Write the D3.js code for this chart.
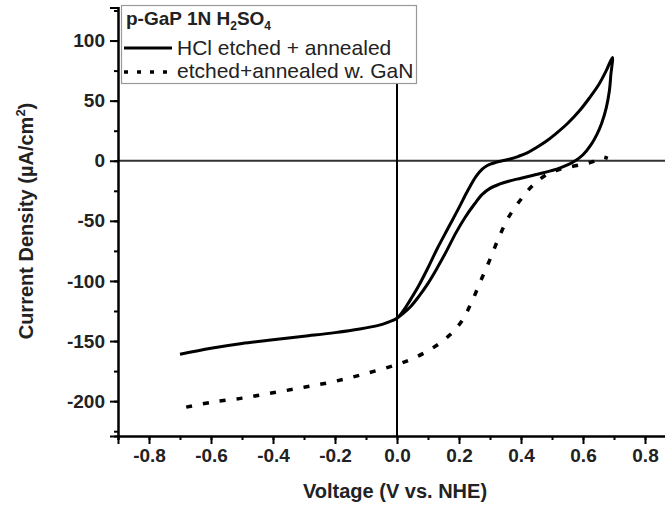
<!DOCTYPE html>
<html>
<head>
<meta charset="utf-8">
<script src="https://cdn.jsdelivr.net/npm/d3@7"></script>
<style>
  html, body { margin: 0; padding: 0; background: #fff; }
  svg { display: block; font-family: "Liberation Sans", Arial, sans-serif; }
</style>
</head>
<body>
<svg id="chart" width="665" height="507"></svg>
<script>
// ---- Data ----
const xTicks = [-0.8, -0.6, -0.4, -0.2, 0.0, 0.2, 0.4, 0.6, 0.8];
const yTicks = [100, 50, 0, -50, -100, -150, -200];

// HCl etched + annealed: sweep from -0.7 V up to 0.7 V and back (CV loop)
const hclVoltage = [-0.70, -0.60, -0.50, -0.40, -0.30, -0.20, -0.12, -0.06, -0.03, 0.00,
  0.02, 0.04, 0.07, 0.10, 0.13, 0.165, 0.20, 0.23, 0.255, 0.275, 0.29, 0.305, 0.32, 0.34,
  0.365, 0.39, 0.42, 0.45, 0.48, 0.51, 0.55, 0.59, 0.62, 0.65, 0.675, 0.695,
  0.69, 0.685, 0.675, 0.66, 0.645, 0.625, 0.60, 0.575, 0.55, 0.52, 0.48, 0.44, 0.40,
  0.36, 0.33, 0.30, 0.275, 0.25, 0.22, 0.19, 0.16, 0.13, 0.10, 0.07, 0.045, 0.02, 0.00];
const hclCurrent = [-161, -156, -152, -149, -146, -143, -140, -137, -134.5, -131,
  -125, -117, -104, -89, -73, -56, -39, -24, -13, -7, -4.2, -2.5, -1.2, 0,
  1.5, 3.5, 6.5, 11, 16, 22, 31, 42, 52, 63, 75, 86,
  72, 58, 44, 31, 22, 13, 5, 0, -3.5, -6.5, -9.5, -12, -14.5,
  -17, -19.5, -23, -28, -36, -47, -60, -75, -89, -102, -113, -121, -127, -131];

// etched+annealed w. GaN
const ganVoltage = [-0.68, -0.60, -0.50, -0.40, -0.30, -0.20, -0.10, 0.00, 0.06, 0.12,
  0.17, 0.21, 0.24, 0.27, 0.30, 0.33, 0.36, 0.40, 0.44, 0.48, 0.52, 0.56, 0.60, 0.63, 0.66, 0.68];
const ganCurrent = [-205, -201, -197.5, -193, -188.5, -183.5, -177, -169.5, -163.5, -155,
  -145, -133, -118, -100, -82, -63, -47, -32, -20, -12, -7.5, -5, -3, -1, 3, 2];

// ---- Layout ----
const svg = d3.select("#chart");
const x = d3.scaleLinear().domain([-0.9, 0.9]).range([118, 676]);
const y = d3.scaleLinear().domain([-229, 127.5]).range([436, 7.5]);
const FONT = "Liberation Sans, Arial, sans-serif";

// zero lines
svg.append("line").attr("x1", x(-0.9)).attr("x2", 665).attr("y1", y(0)).attr("y2", y(0))
  .attr("stroke", "#333").attr("stroke-width", 2);
svg.append("line").attr("x1", x(0)).attr("x2", x(0)).attr("y1", y(127.5)).attr("y2", y(-229))
  .attr("stroke", "#000").attr("stroke-width", 2);

// axes
const xAxis = d3.axisBottom(x).tickValues(xTicks).tickFormat(d3.format(".1f")).tickSize(8).tickPadding(5);
const xMinor = d3.axisBottom(x).tickValues(d3.range(-0.9, 0.95, 0.1)).tickFormat("").tickSize(4);
const yAxis = d3.axisLeft(y).tickValues(yTicks).tickFormat(d3.format("d")).tickSize(8).tickPadding(5);
const yMinor = d3.axisLeft(y).tickValues(d3.range(-225, 130, 25)).tickFormat("").tickSize(4);

function styleAxis(g) {
  g.select(".domain").attr("stroke", "#000").attr("stroke-width", 2);
  g.selectAll(".tick line").attr("stroke", "#000").attr("stroke-width", 2);
  g.selectAll("text").attr("font-size", 19).attr("font-weight", "bold").attr("fill", "#222")
    .attr("font-family", FONT);
}
svg.append("g").attr("transform", `translate(0,${y(-229)})`).call(xMinor).call(styleAxis);
svg.append("g").attr("transform", `translate(0,${y(-229)})`).call(xAxis).call(styleAxis)
  .selectAll("text").text(d => d3.format(".1f")(d).replace("−", "-"));
svg.append("g").attr("transform", `translate(${x(-0.9)},0)`).call(yMinor).call(styleAxis);
svg.append("g").attr("transform", `translate(${x(-0.9)},0)`).call(yAxis).call(styleAxis)
  .selectAll("text").text(d => String(d));

// curves
const line = d3.line().x(d => x(d[0])).y(d => y(d[1])).curve(d3.curveCatmullRom.alpha(0.5));
svg.append("path").datum(hclVoltage.map((v, i) => [v, hclCurrent[i]]))
  .attr("d", line).attr("fill", "none").attr("stroke", "#000").attr("stroke-width", 3)
  .attr("stroke-linejoin", "round");
svg.append("path").datum(ganVoltage.map((v, i) => [v, ganCurrent[i]]))
  .attr("d", line).attr("fill", "none").attr("stroke", "#000").attr("stroke-width", 3.5)
  .attr("stroke-dasharray", "6,11");

// axis titles
svg.append("text").attr("x", 395).attr("y", 498).attr("text-anchor", "middle")
  .attr("font-family", FONT).attr("font-size", 20).attr("font-weight", "bold").attr("fill", "#222")
  .text("Voltage (V vs. NHE)");
const yt = svg.append("text").attr("transform", "translate(33,221) rotate(-90)")
  .attr("text-anchor", "middle").attr("font-family", FONT).attr("font-size", 20)
  .attr("font-weight", "bold").attr("fill", "#222");
yt.append("tspan").text("Current Density (µA/cm");
yt.append("tspan").attr("dy", -8).attr("font-size", 13).text("2");
yt.append("tspan").attr("dy", 8).text(")");

// legend
const lg = svg.append("g").attr("font-family", FONT);
lg.append("rect").attr("x", 121.5).attr("y", 5.5).attr("width", 295).attr("height", 78)
  .attr("fill", "#fff").attr("stroke", "#999").attr("stroke-width", 1.2);
const title = lg.append("text").attr("x", 126).attr("y", 25).attr("font-size", 19)
  .attr("font-weight", "bold").attr("fill", "#222");
title.append("tspan").text("p-GaP 1N H");
title.append("tspan").attr("dy", 5).attr("font-size", 12).text("2");
title.append("tspan").attr("dy", -5).text("SO");
title.append("tspan").attr("dy", 5).attr("font-size", 12).text("4");
lg.append("line").attr("x1", 124).attr("x2", 172).attr("y1", 48).attr("y2", 48)
  .attr("stroke", "#000").attr("stroke-width", 3);
lg.append("text").attr("x", 177).attr("y", 55).attr("font-size", 21).attr("fill", "#222")
  .text("HCl etched + annealed");
lg.append("line").attr("x1", 124).attr("x2", 172).attr("y1", 72).attr("y2", 72)
  .attr("stroke", "#000").attr("stroke-width", 3.5).attr("stroke-dasharray", "4,9");
lg.append("text").attr("x", 177).attr("y", 78).attr("font-size", 21).attr("fill", "#222")
  .text("etched+annealed w. GaN");
</script>
</body>
</html>
